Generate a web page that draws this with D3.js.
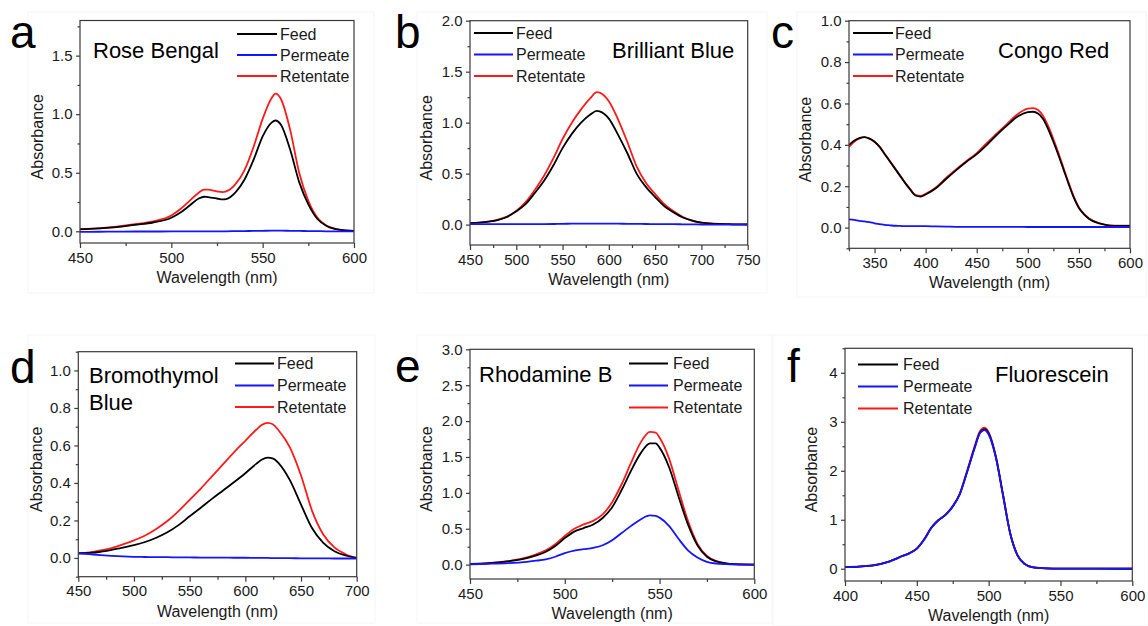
<!DOCTYPE html>
<html>
<head>
<meta charset="utf-8">
<script src="https://cdn.jsdelivr.net/npm/d3@7"></script>
<style>
  html, body { margin: 0; padding: 0; background: #fff; }
  svg { display: block; font-family: Arial, "Liberation Sans", sans-serif; }
</style>
</head>
<body>
<svg id="fig" width="1148" height="626"></svg>
<script>
// ---------- Spectra (wavelength in nm, absorbance) ----------

// a: Rose Bengal
const roseWl   = [450,460,470,480,490,500,505,510,515,518,520,525,528,530,535,540,545,550,555,557,560,565,570,575,580,585,590,595,600];
const roseFeed = [0.017,0.025,0.035,0.055,0.075,0.116,0.16,0.22,0.28,0.295,0.292,0.28,0.272,0.275,0.33,0.44,0.61,0.81,0.93,0.946,0.91,0.70,0.42,0.23,0.105,0.045,0.018,0.008,0.003];
const rosePerm = [-0.005,-0.004,-0.003,-0.002,-0.002,-0.001,0,0,0,0,0,0,0,0,0.001,0.002,0.003,0.004,0.005,0.005,0.005,0.004,0.003,0.002,0.001,0,0,0,0];
const roseRet  = [0.02,0.025,0.04,0.06,0.085,0.135,0.19,0.26,0.33,0.355,0.355,0.34,0.335,0.34,0.40,0.52,0.72,0.96,1.14,1.175,1.13,0.87,0.50,0.26,0.115,0.048,0.02,0.008,0.003];

// b: Brilliant Blue
const bbWl   = [450,460,470,480,490,500,510,520,530,540,550,560,570,580,587,590,600,610,620,630,640,650,660,670,680,690,700,710,720,730,740,750];
const bbFeed = [0.015,0.02,0.03,0.045,0.075,0.13,0.20,0.31,0.43,0.58,0.75,0.89,1.00,1.08,1.115,1.11,1.04,0.88,0.70,0.50,0.37,0.27,0.18,0.12,0.07,0.04,0.02,0.01,0.006,0.004,0.002,0.001];
const bbPerm = [0.004,0.004,0.004,0.004,0.004,0.004,0.004,0.005,0.005,0.006,0.008,0.009,0.01,0.01,0.01,0.01,0.01,0.009,0.008,0.007,0.006,0.005,0.004,0.004,0.003,0.002,0.001,0,0,0,0,0];
const bbRet  = [0.015,0.02,0.03,0.048,0.08,0.135,0.22,0.34,0.48,0.65,0.84,1.00,1.13,1.24,1.30,1.295,1.21,1.03,0.81,0.57,0.41,0.30,0.20,0.13,0.075,0.04,0.02,0.012,0.007,0.004,0.002,0.001];

// c: Congo Red
const crWl   = [325,330,335,340,345,350,355,360,365,370,375,380,385,390,395,400,410,420,430,440,450,460,470,480,490,500,505,510,515,520,525,530,535,540,545,550,555,560,570,580,590,600];
const crFeed = [0.40,0.42,0.432,0.437,0.43,0.415,0.39,0.355,0.32,0.285,0.25,0.215,0.183,0.155,0.15,0.16,0.19,0.235,0.278,0.318,0.355,0.40,0.45,0.495,0.537,0.558,0.56,0.552,0.525,0.475,0.415,0.35,0.28,0.21,0.145,0.095,0.064,0.042,0.02,0.01,0.008,0.008];
const crPerm = [0.04,0.037,0.033,0.03,0.026,0.021,0.017,0.013,0.011,0.009,0.008,0.007,0.007,0.007,0.007,0.007,0.006,0.005,0.004,0.004,0.004,0.004,0.004,0.004,0.004,0.003,0.003,0.003,0.003,0.003,0.003,0.003,0.003,0.003,0.003,0.003,0.003,0.003,0.003,0.003,0.003,0.003];
const crRet  = [0.39,0.415,0.43,0.437,0.43,0.415,0.39,0.356,0.322,0.287,0.252,0.217,0.186,0.158,0.153,0.163,0.194,0.24,0.282,0.322,0.36,0.41,0.456,0.503,0.548,0.575,0.577,0.568,0.54,0.49,0.428,0.36,0.288,0.216,0.15,0.098,0.066,0.044,0.021,0.011,0.009,0.009];

// d: Bromothymol Blue
const btbWl   = [450,460,470,480,490,500,510,520,530,540,550,560,570,580,590,600,610,615,620,625,630,640,650,660,670,680,690,700];
const btbFeed = [0.025,0.027,0.033,0.043,0.055,0.068,0.085,0.108,0.137,0.175,0.222,0.268,0.315,0.36,0.405,0.452,0.503,0.525,0.535,0.53,0.505,0.415,0.285,0.158,0.08,0.036,0.013,0.0];
const btbPerm = [0.025,0.02,0.015,0.011,0.008,0.006,0.005,0.004,0.004,0.003,0.003,0.002,0.002,0.002,0.001,0.001,0.0,0.0,0.0,-0.001,-0.001,-0.001,-0.002,-0.002,-0.002,-0.003,-0.003,-0.003];
const btbRet  = [0.025,0.03,0.04,0.053,0.072,0.094,0.12,0.155,0.197,0.25,0.31,0.37,0.435,0.50,0.565,0.625,0.685,0.71,0.72,0.712,0.68,0.59,0.44,0.25,0.125,0.056,0.02,0.0];

// e: Rhodamine B
const rhbWl   = [450,460,470,480,485,490,495,500,505,510,515,520,525,530,535,540,545,548,550,555,560,565,570,575,580,585,590,600];
const rhbFeed = [0.01,0.02,0.045,0.09,0.13,0.18,0.26,0.37,0.46,0.51,0.56,0.65,0.80,1.04,1.31,1.55,1.69,1.69,1.63,1.36,0.95,0.56,0.27,0.11,0.045,0.018,0.007,0.0];
const rhbPerm = [0.005,0.012,0.022,0.04,0.055,0.075,0.11,0.16,0.195,0.215,0.235,0.27,0.34,0.44,0.54,0.63,0.685,0.68,0.655,0.54,0.36,0.2,0.1,0.04,0.015,0.006,0.002,0.0];
const rhbRet  = [0.01,0.022,0.05,0.10,0.145,0.20,0.285,0.40,0.50,0.56,0.61,0.70,0.87,1.12,1.42,1.70,1.85,1.84,1.77,1.48,1.04,0.61,0.29,0.12,0.048,0.018,0.007,0.0];

// f: Fluorescein
const flWl   = [400,410,420,430,440,445,450,455,460,465,470,475,480,485,490,494,497,500,505,510,515,520,525,530,540,550,600];
const flFeed = [0.034,0.045,0.07,0.14,0.26,0.32,0.41,0.59,0.83,0.99,1.1,1.27,1.53,1.98,2.45,2.78,2.85,2.76,2.28,1.5,0.72,0.28,0.1,0.035,0.008,0.002,0.0];
const flPerm = [0.034,0.045,0.07,0.14,0.26,0.32,0.41,0.59,0.83,0.99,1.1,1.27,1.53,1.97,2.44,2.77,2.83,2.74,2.27,1.5,0.72,0.28,0.1,0.035,0.008,0.002,0.0];
const flRet  = [0.036,0.047,0.072,0.142,0.262,0.322,0.412,0.595,0.835,0.995,1.105,1.28,1.54,2.0,2.48,2.81,2.88,2.79,2.3,1.52,0.73,0.285,0.102,0.036,0.008,0.002,0.0];

// Axis tick values
const xTicksA = [450,500,550,600],     yTicksA = [0,0.5,1.0,1.5];
const xTicksB = [450,500,550,600,650,700,750], yTicksB = [0,0.5,1.0,1.5,2.0];
const xTicksC = [350,400,450,500,550,600], yTicksC = [0,0.2,0.4,0.6,0.8,1.0];
const xTicksD = [450,500,550,600,650,700], yTicksD = [0,0.2,0.4,0.6,0.8,1.0];
const xTicksE = [450,500,550,600],     yTicksE = [0,0.5,1.0,1.5,2.0,2.5,3.0];
const xTicksF = [400,450,500,550,600], yTicksF = [0,1,2,3,4];

const seriesNames = ["Feed", "Permeate", "Retentate"];
const seriesColors = { Feed: "#000000", Permeate: "#1414ff", Retentate: "#ff1a1a" };

// ---------- Panel definitions ----------
const panels = [
  { letter: "a", title: ["Rose Bengal"], wl: roseWl, feed: roseFeed, perm: rosePerm, ret: roseRet,
    xDomain: [450, 600], yDomain: [-0.1, 1.8], xTicks: xTicksA, yTicks: yTicksA, xMinor: 25, yMinor: 0.25, yFmt: ".1f",
    frame: { l: 80, r: 354, t: 20.5, b: 243 }, box: [28, 12, 374, 293],
    letterPos: [10, 48], titlePos: [93, 58], titleLead: 27,
    legend: { x0: 237, x1: 277, tx: 280, y: [34, 55, 76] }, yTitleOff: 42.5 },
  { letter: "b", title: ["Brilliant Blue"], wl: bbWl, feed: bbFeed, perm: bbPerm, ret: bbRet,
    xDomain: [450, 750], yDomain: [-0.2, 2.0], xTicks: xTicksB, yTicks: yTicksB, xMinor: 25, yMinor: 0.25, yFmt: ".1f",
    frame: { l: 470, r: 747.7, t: 20.7, b: 245 }, box: [417, 12, 767, 293],
    letterPos: [395, 48], titlePos: [612, 58], titleLead: 27,
    legend: { x0: 474, x1: 513, tx: 516, y: [33, 54.5, 76] }, yTitleOff: 43.5 },
  { letter: "c", title: ["Congo Red"], wl: crWl, feed: crFeed, perm: crPerm, ret: crRet,
    xDomain: [325, 600], yDomain: [-0.1, 1.0], xTicks: xTicksC, yTicks: yTicksC, xMinor: 25, yMinor: 0.1, yFmt: ".1f",
    frame: { l: 849, r: 1130, t: 20.7, b: 248.3 }, box: [797, 12, 1146, 297],
    letterPos: [771, 48], titlePos: [998, 58], titleLead: 27,
    legend: { x0: 853, x1: 893, tx: 895, y: [33, 54.5, 76] }, yTitleOff: 43.5 },
  { letter: "d", title: ["Bromothymol", "Blue"], wl: btbWl, feed: btbFeed, perm: btbPerm, ret: btbRet,
    xDomain: [450, 700], yDomain: [-0.1, 1.1], xTicks: xTicksD, yTicks: yTicksD, xMinor: 25, yMinor: 0.1, yFmt: ".1f",
    frame: { l: 78.3, r: 356.7, t: 351.7, b: 576.7 }, box: [28, 335, 375, 623],
    letterPos: [10, 383], titlePos: [89, 383], titleLead: 27,
    legend: { x0: 235, x1: 274, tx: 277, y: [363.5, 385.5, 407] }, yTitleOff: 42 },
  { letter: "e", title: ["Rhodamine B"], wl: rhbWl, feed: rhbFeed, perm: rhbPerm, ret: rhbRet,
    xDomain: [450, 600], yDomain: [-0.2, 3.0], xTicks: xTicksE, yTicks: yTicksE, xMinor: 25, yMinor: 0.25, yFmt: ".1f",
    frame: { l: 470, r: 754.3, t: 349.3, b: 579 }, box: [417, 335, 772, 623],
    letterPos: [395, 382], titlePos: [479, 382], titleLead: 27,
    legend: { x0: 629, x1: 668, tx: 673, y: [363.5, 385.5, 407.5] }, yTitleOff: 43.7 },
  { letter: "f", title: ["Fluorescein"], wl: flWl, feed: flFeed, perm: flPerm, ret: flRet,
    xDomain: [400, 600], yDomain: [-0.25, 4.5], xTicks: xTicksF, yTicks: yTicksF, xMinor: 25, yMinor: 0.5, yFmt: "d",
    frame: { l: 845, r: 1132.3, t: 348.3, b: 581 }, box: [773, 335, 1148, 626],
    letterPos: [787, 382], titlePos: [995, 382], titleLead: 27,
    legend: { x0: 858, x1: 898, tx: 903, y: [364.5, 386.5, 408.5] }, yTitleOff: 34 }
];

const svg = d3.select("#fig");
const TEXT = "#1a1a1a";
const AXIS = "#3a3a3a";

function minorValues(domain, step, majors) {
  const out = [];
  const start = Math.ceil(domain[0] / step - 1e-9) * step;
  for (let v = start; v <= domain[1] + 1e-9; v += step) {
    const r = Math.round(v * 1000) / 1000;
    if (!majors.some(m => Math.abs(m - r) < 1e-6)) out.push(r);
  }
  return out;
}

panels.forEach(p => {
  const g = svg.append("g");
  const f = p.frame;

  // faint panel background outline
  g.append("rect")
    .attr("x", p.box[0]).attr("y", p.box[1])
    .attr("width", p.box[2] - p.box[0]).attr("height", p.box[3] - p.box[1])
    .attr("fill", "none").attr("stroke", "#f5f5f5").attr("stroke-width", 1);

  const x = d3.scaleLinear().domain(p.xDomain).range([f.l, f.r]);
  const y = d3.scaleLinear().domain(p.yDomain).range([f.b, f.t]);

  // clip area for curves
  const clipId = "clip-" + p.letter;
  g.append("clipPath").attr("id", clipId)
    .append("rect").attr("x", f.l).attr("y", f.t).attr("width", f.r - f.l).attr("height", f.b - f.t);

  const line = d3.line()
    .x((d, i) => x(p.wl[i]))
    .y(d => y(d))
    .curve(d3.curveMonotoneX);

  const curves = g.append("g").attr("clip-path", `url(#${clipId})`);
  // drawing order: Retentate, Feed, Permeate on top
  [["Retentate", p.ret], ["Feed", p.feed], ["Permeate", p.perm]].forEach(([name, vals]) => {
    curves.append("path")
      .attr("d", line(vals))
      .attr("fill", "none")
      .attr("stroke", seriesColors[name])
      .attr("stroke-width", 1.8)
      .attr("stroke-linejoin", "round");
  });

  // frame
  g.append("rect")
    .attr("x", f.l).attr("y", f.t).attr("width", f.r - f.l).attr("height", f.b - f.t)
    .attr("fill", "none").attr("stroke", AXIS).attr("stroke-width", 1.2);

  // x axis: major + minor ticks
  const xAxis = d3.axisBottom(x).tickValues(p.xTicks).tickSize(5).tickSizeOuter(0).tickPadding(4)
    .tickFormat(d3.format("d"));
  const gx = g.append("g").attr("transform", `translate(0,${f.b})`).call(xAxis);
  const gxm = g.append("g").attr("transform", `translate(0,${f.b})`)
    .call(d3.axisBottom(x).tickValues(minorValues(p.xDomain, p.xMinor, p.xTicks)).tickSize(3).tickSizeOuter(0).tickFormat(""));

  // y axis: major + minor ticks
  const yAxis = d3.axisLeft(y).tickValues(p.yTicks).tickSize(4).tickSizeOuter(0).tickPadding(3.5)
    .tickFormat(d3.format(p.yFmt));
  const gy = g.append("g").attr("transform", `translate(${f.l},0)`).call(yAxis);
  const gym = g.append("g").attr("transform", `translate(${f.l},0)`)
    .call(d3.axisLeft(y).tickValues(minorValues(p.yDomain, p.yMinor, p.yTicks)).tickSize(2.5).tickSizeOuter(0).tickFormat(""));

  [gx, gxm, gy, gym].forEach(a => {
    a.select(".domain").remove();
    a.selectAll(".tick line").attr("stroke", AXIS).attr("stroke-width", 1.2);
    a.selectAll(".tick text").attr("fill", TEXT).style("font-size", "15px")
      .style("font-family", 'Arial, "Liberation Sans", sans-serif');
  });

  // axis titles
  g.append("text")
    .attr("x", (f.l + f.r) / 2).attr("y", f.b + 40)
    .attr("text-anchor", "middle").attr("fill", TEXT).style("font-size", "16px")
    .text("Wavelength (nm)");
  const cy = (f.t + f.b) / 2 + 5;
  g.append("text")
    .attr("transform", `translate(${f.l - p.yTitleOff},${cy}) rotate(-90)`)
    .attr("dy", "0.35em")
    .attr("text-anchor", "middle").attr("fill", TEXT).style("font-size", "16px")
    .text("Absorbance");

  // panel letter
  g.append("text")
    .attr("x", p.letterPos[0]).attr("y", p.letterPos[1])
    .attr("fill", "#000").style("font-size", "46px")
    .text(p.letter);

  // dye name
  const t = g.append("text").attr("fill", "#000").style("font-size", "22px");
  p.title.forEach((s, i) => {
    t.append("tspan").attr("x", p.titlePos[0]).attr("y", p.titlePos[1] + i * p.titleLead).text(s);
  });

  // legend
  const lg = g.append("g");
  seriesNames.forEach((name, i) => {
    const yy = p.legend.y[i];
    lg.append("line")
      .attr("x1", p.legend.x0).attr("x2", p.legend.x1)
      .attr("y1", yy).attr("y2", yy)
      .attr("stroke", seriesColors[name]).attr("stroke-width", 2);
    lg.append("text")
      .attr("x", p.legend.tx).attr("y", yy).attr("dy", "0.35em")
      .attr("fill", TEXT).style("font-size", "16px")
      .text(name);
  });
});
</script>
</body>
</html>
